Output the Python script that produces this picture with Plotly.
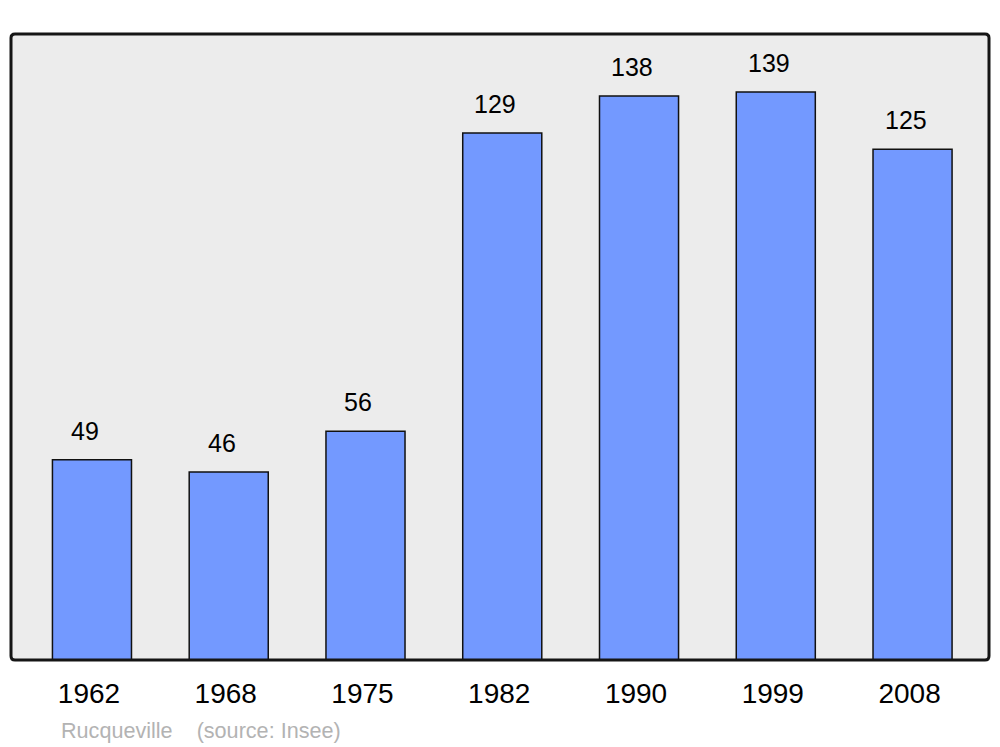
import plotly.graph_objects as go

years = ["1962", "1968", "1975", "1982", "1990", "1999", "2008"]
population = [49, 46, 56, 129, 138, 139, 125]
town = "Rucqueville"
source = "(source: Insee)"

FONT = "Liberation Sans, Arial, sans-serif"

fig = go.Figure()
fig.add_trace(go.Bar(
    x=list(range(len(years))),
    y=population,
    width=0.578,
    marker=dict(color="#7399ff", line=dict(color="#111111", width=1.5)),
    hoverinfo="skip",
))

for i, v in enumerate(population):
    fig.add_annotation(
        x=i, y=v, text=str(v), showarrow=False,
        yanchor="bottom", yshift=13, xshift=-7,
        font=dict(family=FONT, size=25, color="#000000"),
    )

fig.add_annotation(
    xref="paper", yref="paper", x=(59 - 11) / 978, y=-(730 - 660) / 626,
    xanchor="left", yanchor="middle", showarrow=False,
    text=f"{town}&nbsp;&nbsp;&nbsp;&nbsp;{source}",
    font=dict(family=FONT, size=21.6, color="#b3b3b3"),
)

# rounded frame around the plotting area
rx, ry = 4 / 978, 4 / 626
frame = (
    f"M {rx},0 L {1-rx},0 Q 1,0 1,{ry} L 1,{1-ry} Q 1,1 {1-rx},1 "
    f"L {rx},1 Q 0,1 0,{1-ry} L 0,{ry} Q 0,0 {rx},0 Z"
)
fig.add_shape(
    type="path", xref="paper", yref="paper", path=frame,
    line=dict(color="#151515", width=3), layer="above",
)

fig.update_layout(
    width=992, height=739,
    margin=dict(l=3, r=11, t=26, b=87),
    paper_bgcolor="#ffffff",
    plot_bgcolor="#ececec",
    showlegend=False,
    xaxis=dict(
        range=[-0.592, 6.559],
        tickmode="array",
        tickvals=list(range(len(years))),
        ticktext=years,
        tickfont=dict(family=FONT, size=28, color="#000000"),
        showgrid=False, zeroline=False, ticks="",
        ticklabelstandoff=14,
        ticklabelshift=-3,
    ),
    yaxis=dict(
        range=[0, 153.2],
        showgrid=False, zeroline=False, showticklabels=False, ticks="",
    ),
)

fig.write_html("out.html")
